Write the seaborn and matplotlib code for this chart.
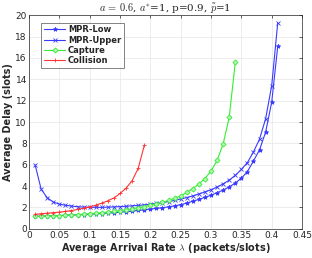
import numpy as np
import pandas as pd
import matplotlib
matplotlib.use("Agg")
import matplotlib.pyplot as plt
import seaborn as sns

# ---- data ----
x_blue = [round(0.01 * i, 2) for i in range(1, 42)]
mpr_low = [1.15, 1.17, 1.19, 1.21, 1.23, 1.25, 1.28, 1.30, 1.33, 1.36,
           1.39, 1.42, 1.46, 1.50, 1.55, 1.60, 1.65, 1.71, 1.77, 1.84,
           1.90, 1.97, 2.05, 2.14, 2.25, 2.40, 2.58, 2.75, 2.94, 3.14,
           3.37, 3.62, 3.92, 4.27, 4.73, 5.35, 6.35, 7.40, 9.05, 11.85, 17.1]
mpr_upper = [6.0, 3.7, 2.9, 2.5, 2.3, 2.2, 2.12, 2.06, 2.02, 2.0,
             2.0, 2.0, 2.02, 2.04, 2.07, 2.1, 2.14, 2.18, 2.23, 2.3,
             2.37, 2.45, 2.54, 2.65, 2.78, 2.92, 3.07, 3.25, 3.45, 3.65,
             3.9, 4.2, 4.55, 5.0, 5.55, 6.2, 7.2, 8.4, 10.3, 13.4, 19.3]
x_capture = [round(0.01 * i, 2) for i in range(1, 35)]
capture = [1.15, 1.17, 1.19, 1.21, 1.23, 1.26, 1.29, 1.32, 1.36, 1.40,
           1.45, 1.50, 1.56, 1.62, 1.70, 1.78, 1.87, 1.97, 2.08, 2.20,
           2.33, 2.48, 2.65, 2.84, 3.07, 3.40, 3.75, 4.20, 4.70, 5.40,
           6.40, 7.95, 10.45, 15.6]
x_collision = [round(0.01 * i, 2) for i in range(1, 20)]
collision = [1.35, 1.40, 1.45, 1.50, 1.55, 1.62, 1.70, 1.80, 1.92, 2.05,
             2.20, 2.40, 2.62, 2.88, 3.30, 3.80, 4.50, 5.66, 7.80]

series_names = ["MPR-Low", "MPR-Upper", "Capture", "Collision"]
x_ticks = [0, 0.05, 0.1, 0.15, 0.2, 0.25, 0.3, 0.35, 0.4, 0.45]
x_tick_labels = ["0", "0.05", "0.1", "0.15", "0.2", "0.25", "0.3", "0.35", "0.4", "0.45"]
y_ticks = [0, 2, 4, 6, 8, 10, 12, 14, 16, 18, 20]

df = pd.concat([
    pd.DataFrame({"x": x_blue, "y": mpr_low, "s": series_names[0]}),
    pd.DataFrame({"x": x_blue, "y": mpr_upper, "s": series_names[1]}),
    pd.DataFrame({"x": x_capture, "y": capture, "s": series_names[2]}),
    pd.DataFrame({"x": x_collision, "y": collision, "s": series_names[3]}),
], ignore_index=True)

colors = {"MPR-Low": "#3a3aff", "MPR-Upper": "#3a3aff",
          "Capture": "#33ee33", "Collision": "#ff3333"}
markers = {"MPR-Low": "*", "MPR-Upper": "x", "Capture": "D", "Collision": "+"}

sns.set_theme(style="whitegrid")
plt.rcParams["font.family"] = ["DejaVu Sans"]
plt.rcParams["mathtext.fontset"] = "cm"

fig = plt.figure(figsize=(3.12, 2.58), dpi=100)
ax = fig.add_axes([0.093, 0.1136, 0.875, 0.827])

for name in series_names:
    sub = df[df["s"] == name]
    m = markers[name]
    kw = dict(marker=m, markersize=3.2 if m != "D" else 2.6,
              markeredgewidth=0.6, markeredgecolor=colors[name],
              markerfacecolor=colors[name])
    if m == "D":
        kw["markerfacecolor"] = "#b8f5b8"
    sns.lineplot(data=sub, x="x", y="y", ax=ax, color=colors[name],
                 linewidth=0.8, label=name, **kw)

ax.set_xlim(0, 0.45)
ax.set_ylim(0, 20)
ax.set_xticks(x_ticks)
ax.set_xticklabels(x_tick_labels)
ax.set_yticks(y_ticks)
ax.tick_params(axis="both", labelsize=6.5, pad=1.5, direction="in",
               length=2, width=0.5, colors="#262626", top=True, right=True)
ax.grid(True, color="#e6e6e6", linewidth=0.5)
ax.set_facecolor("white")
for sp in ax.spines.values():
    sp.set_visible(True)
    sp.set_color("#262626")
    sp.set_linewidth(0.5)

ax.set_xlabel(r"Average Arrival Rate $\lambda$ (packets/slots)",
              fontsize=7, fontweight="bold", labelpad=1, color="#262626")
ax.set_ylabel("Average Delay (slots)", fontsize=7, fontweight="bold",
              labelpad=2, color="#262626")
ax.set_title(r"$a\,=\,0.6$, $a^{*}$=1, p=0.9, $\tilde{p}$=1",
             fontsize=7.5, pad=3, family="serif", color="#262626")

leg = ax.legend(loc="upper left", bbox_to_anchor=(0.045, 0.965),
                prop={"size": 6, "weight": "bold"}, frameon=True,
                fancybox=False, borderpad=0.3, labelspacing=0.15,
                handlelength=2.6, handletextpad=0.3, borderaxespad=0)
leg.get_frame().set_edgecolor("#262626")
leg.get_frame().set_linewidth(0.5)

fig.savefig("out.png", dpi=100)
